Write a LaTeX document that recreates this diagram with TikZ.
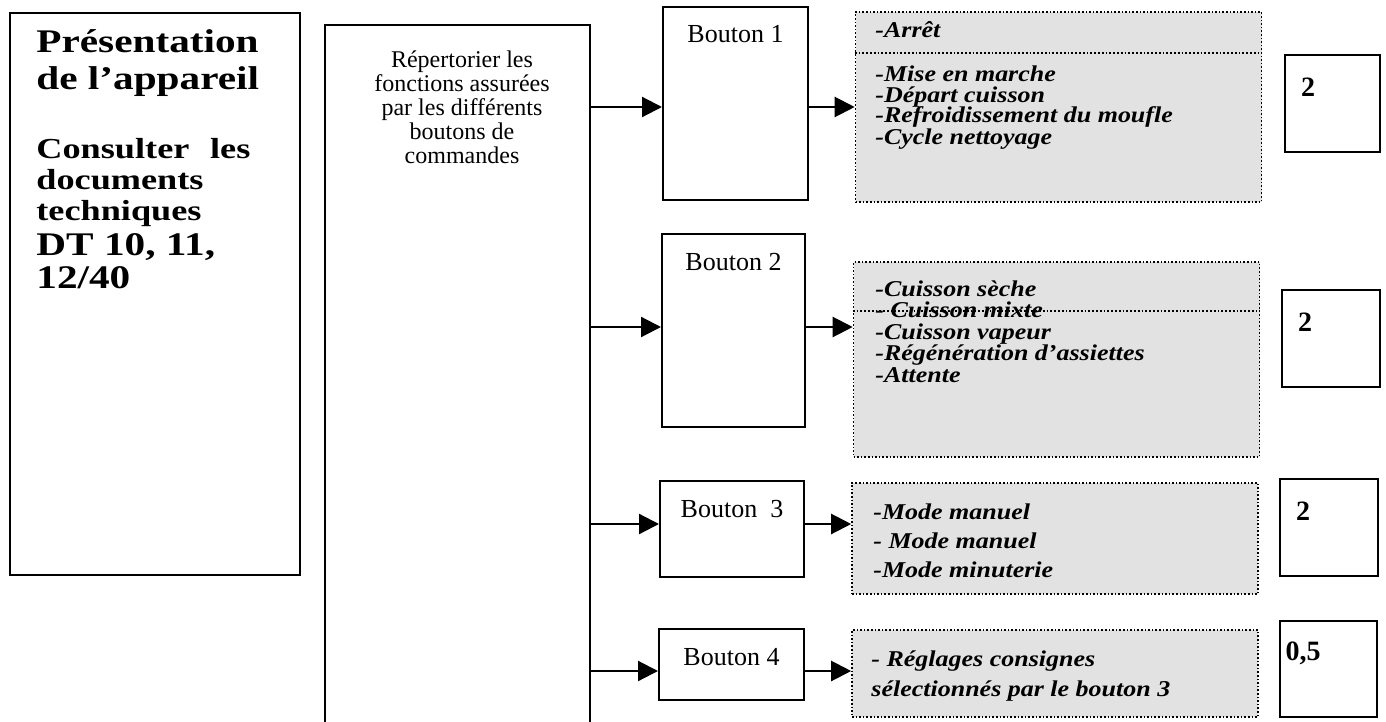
\documentclass[tikz,border=0pt]{standalone}
\usepackage{fontspec}
\setmainfont{Liberation Serif}
\newfontfamily\titrefont{Liberation Serif}[FakeStretch=1.25]
\newfontfamily\listefont{Liberation Serif}[FakeStretch=1.15]
\usetikzlibrary{arrows.meta}
\definecolor{grisfond}{RGB}{226,226,226}

\begin{document}
\begin{tikzpicture}[x=0.5pt,y=-0.5pt,
  cadre/.style={draw,line width=1pt,inner sep=0pt},
  fonctions/.style={draw,densely dotted,line width=0.8pt,fill=grisfond,inner sep=0pt,minimum width=203pt},
  liste/.style={anchor=base west,inner sep=0pt,align=left},
  fleche/.style={line width=1.1pt,-{Triangle[length=10pt,width=10pt]}}]
\useasboundingbox (0,0) rectangle (1386,722);

\node [cadre,minimum width=145pt,minimum height=281pt] (pres) at (155,294) {};
\node [liste,font=\titrefont\bfseries\fontsize{16.5}{18.5}\selectfont] (titre) at (36,90) {Présentation\\de l’appareil};
\node [liste,font=\titrefont\bfseries\fontsize{14.5}{15.5}\selectfont] (consult) at (36,220) {\makebox[107pt][s]{Consulter les}\\documents\\techniques};
\node [liste,font=\titrefont\bfseries\fontsize{16.5}{16.5}\selectfont] (dt) at (36,288) {DT 10, 11,\\12/40};

\node [cadre,minimum width=132.5pt,minimum height=370pt] (rep) at (457.5,395) {};
\node [inner sep=0pt,align=center,font=\fontsize{12}{12}\selectfont] (reptxt) at (462,163) [anchor=base] {Répertorier les\\fonctions assurées\\par les différents\\boutons de\\commandes};

\node [cadre,minimum width=72.5pt,minimum height=96.5pt] (b1) at (735.5,103.5) {};
\node [cadre,minimum width=71.5pt,minimum height=96.5pt] (b2) at (733.5,330.5) {};
\node [cadre,minimum width=72pt,minimum height=48pt] (b3) at (732,529) {};
\node [cadre,minimum width=72.5pt,minimum height=35.5pt] (b4) at (731.5,664.5) {};
\foreach \i/\t in {1/Bouton 1,2/Bouton 2,3/Bouton~ 3,4/Bouton 4}
  \node [anchor=base,inner sep=0pt,font=\fontsize{13}{13}\selectfont] (lb\i) at ([yshift=-18.5pt]b\i.north) {\t};

\node [fonctions,minimum height=95pt] (p1) at (1058.5,107) {};
\node [fonctions,minimum height=97.5pt] (p2) at (1056.5,359.5) {};
\node [fonctions,minimum height=55.5pt] (p3) at (1055,538.5) {};
\node [fonctions,minimum height=43.5pt] (p4) at (1055,673.5) {};
\draw [densely dotted,line width=0.9pt] ([yshift=-21pt]p1.north west) -- ([yshift=-21pt]p1.north east);
\draw [densely dotted,line width=0.9pt] ([yshift=-25pt]p2.north west) -- ([yshift=-25pt]p2.north east);

\node [liste,font=\listefont\bfseries\itshape\fontsize{11.3}{10.5}\selectfont] (f1) at (875,144) {-Arrêt\\[11.5pt]-Mise en marche\\-Départ cuisson\\-Refroidissement du moufle\\-Cycle nettoyage};
\node [liste,font=\listefont\bfseries\itshape\fontsize{11.3}{10.75}\selectfont] (f2) at (875,382) {-Cuisson sèche\\- Cuisson mixte\\-Cuisson vapeur\\-Régénération d’assiettes\\-Attente};
\node [liste,font=\listefont\bfseries\itshape\fontsize{11.3}{14.5}\selectfont] (f3) at (873,577) {-Mode manuel\\- Mode manuel\\-Mode minuterie};
\node [liste,font=\listefont\bfseries\itshape\fontsize{11.3}{15}\selectfont] (f4) at (871,696) {- Réglages consignes\\sélectionnés par le bouton 3};

\node [cadre,minimum width=47.5pt,minimum height=48.5pt] (s1) at (1332.5,103.5) {};
\node [cadre,minimum width=49pt,minimum height=48.5pt] (s2) at (1331,338.5) {};
\node [cadre,minimum width=49pt,minimum height=48.5pt] (s3) at (1329,527.5) {};
\node [cadre,minimum width=48.5pt,minimum height=48pt] (s4) at (1328.5,669) {};
\foreach \i/\n in {1/2,2/2,3/2,4/{0,5}}
  \node [font=\bfseries\fontsize{14}{14}\selectfont] (n\i) at ([xshift=12pt,yshift=-16.5pt]s\i.north west) {\n};

\coordinate (a1) at (590,107);
\coordinate (a2) at (590,327);
\coordinate (a3) at (590,524);
\coordinate (a4) at (590,671);
\foreach \i in {1,...,4} {
  \draw [fleche] (a\i) -- (a\i -| b\i.west);
  \draw [fleche] (b\i.east |- a\i) -- (p\i.west |- a\i);
}

\end{tikzpicture}
\end{document}
